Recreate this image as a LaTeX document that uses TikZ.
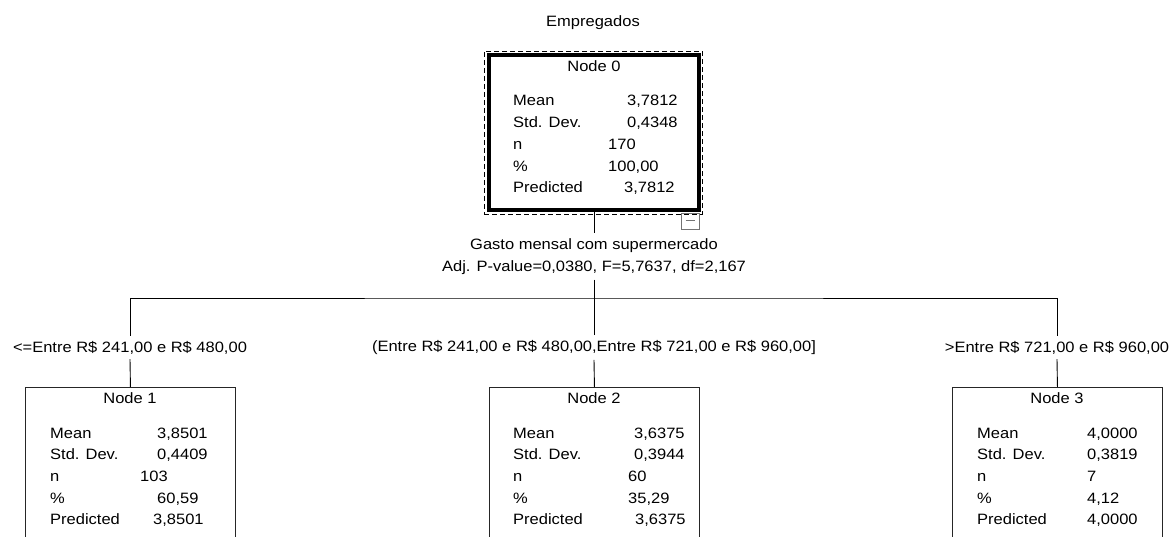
\documentclass[tikz,border=0pt]{standalone}
\usepackage{fontspec}
\setmainfont{Liberation Sans}
\newfontfamily\treefont{Liberation Sans}[FakeStretch=1.1, Scale=1.5]
\usetikzlibrary{positioning}

\tikzset{
	txt/.style={inner sep=0pt, font=\treefont\fontsize{10}{22}\selectfont},
	rowlab/.style={txt, anchor=base west},
	rowval/.style={txt, anchor=base west},
	boxtitle/.style={txt, anchor=base},
	leafbox/.style={draw=black!85, line width=0.9pt, inner sep=0pt, anchor=north west, minimum width=210pt, minimum height=175pt},
	splitlab/.style={txt, inner sep=5pt, align=center},
	conn/.style={line width=0.9pt},
}

\begin{document}
\begin{tikzpicture}[x=1pt, y=-1pt]
\useasboundingbox (0,0) rectangle (1170,537);
\clip (0,0) rectangle (1170,537);

% root
\node[boxtitle] (dep) at (593,27) {Empregados};
\node[draw, line width=4pt, minimum width=210pt, minimum height=155pt, inner sep=0pt] (box0) at (594,132.5) {};
\node[draw, line width=0.8pt, dash pattern=on 5pt off 3pt, minimum width=218pt, minimum height=163pt, inner sep=0pt] (sel0) at (593,132.5) {};
\node[draw=black!55, line width=0.9pt, minimum width=18pt, minimum height=16pt, inner sep=0pt] (tog0) at (690,221) {};
\draw[black!55, line width=1pt] ([xshift=-4.5pt]tog0.center) -- ([xshift=4.5pt]tog0.center);
\node[boxtitle] (n0-t) at (594,72) {Node 0};
\foreach \lab/\val/\vx [count=\i] in {Mean/3{,}7812/627, Std. Dev./0{,}4348/627, n/170/608, \%/100{,}00/608, Predicted/3{,}7812/624}{
	\node[rowlab] (n0-l\i) at (513,{106+21.75*(\i-1)}) {\lab};
	\node[rowval] (n0-v\i) at (\vx,{106+21.75*(\i-1)}) {\val};
}

% split
\node[splitlab] (split) at (594,256.5) {Gasto mensal com supermercado\\Adj. P-value=0,0380, F=5,7637, df=2,167};
\coordinate (bar) at (594,298);

% children
\node[leafbox] (box1) at (25,387) {};
\node[leafbox] (box2) at (489,387) {};
\node[leafbox] (box3) at (952,387) {};

\node[txt, inner sep=5pt] (lab1) at (130,347.5) {<=Entre R\$ 241,00 e R\$ 480,00};
\node[txt, inner sep=5pt] (lab2) at (594,347.5) {(Entre R\$ 241,00 e R\$ 480,00,Entre R\$ 721,00 e R\$ 960,00]};
\node[txt, inner sep=5pt] (lab3) at (1057,347.5) {>Entre R\$ 721,00 e R\$ 960,00};

\draw[conn] (box0.south) -- (split.north);
\draw[conn] (split.south) -- (bar);
\draw[conn] (lab1.north) |- (bar) -| (lab3.north);
\draw[conn] (lab2.north) -- (bar);
\draw[conn] (lab1.south) -- (box1.north);
\draw[conn] (lab2.south) -- (box2.north);
\draw[conn] (lab3.south) -- (box3.north);

% node 1
\node[boxtitle] (n1-t) at (130,403) {Node 1};
\foreach \lab/\val/\vx [count=\i] in {Mean/3{,}8501/157, Std. Dev./0{,}4409/157, n/103/140, \%/60{,}59/157, Predicted/3{,}8501/153}{
	\node[rowlab] (n1-l\i) at (50,{438+21.7*(\i-1)}) {\lab};
	\node[rowval] (n1-v\i) at (\vx,{438+21.7*(\i-1)}) {\val};
}

% node 2
\node[boxtitle] (n2-t) at (594,403) {Node 2};
\foreach \lab/\val/\vx [count=\i] in {Mean/3{,}6375/634, Std. Dev./0{,}3944/634, n/60/628, \%/35{,}29/628, Predicted/3{,}6375/635}{
	\node[rowlab] (n2-l\i) at (513,{438+21.7*(\i-1)}) {\lab};
	\node[rowval] (n2-v\i) at (\vx,{438+21.7*(\i-1)}) {\val};
}

% node 3
\node[boxtitle] (n3-t) at (1057,403) {Node 3};
\foreach \lab/\val/\vx [count=\i] in {Mean/4{,}0000/1087, Std. Dev./0{,}3819/1087, n/7/1087, \%/4{,}12/1087, Predicted/4{,}0000/1087}{
	\node[rowlab] (n3-l\i) at (977,{438+21.7*(\i-1)}) {\lab};
	\node[rowval] (n3-v\i) at (\vx,{438+21.7*(\i-1)}) {\val};
}
\end{tikzpicture}
\end{document}
